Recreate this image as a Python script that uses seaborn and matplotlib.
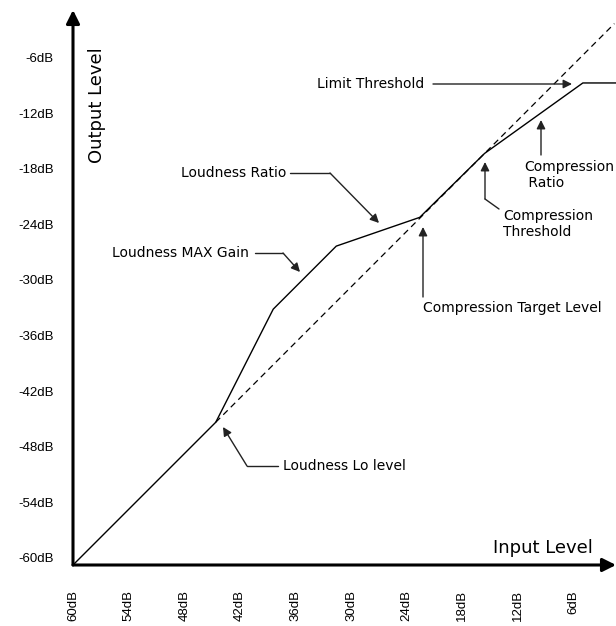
import pandas as pd
import seaborn as sns
import matplotlib.pyplot as plt
from matplotlib.transforms import ScaledTranslation

# transfer curve (input dB -> output dB)
input_db = [-60, -44.6, -38.4, -31.6, -22.6, -15.6, -5.0, -1.4]
output_db = [-60, -44.6, -32.4, -25.6, -22.5, -15.6, -8.0, -8.0]
# dashed unity-gain reference
unity_db = [-44.6, -1.6]

x_ticks = [-60, -54, -48, -42, -36, -30, -24, -18, -12, -6]
x_tick_labels = ['60dB', '54dB', '48dB', '42dB', '36dB', '30dB', '24dB', '18dB', '12dB', '6dB']
y_ticks = [-6, -12, -18, -24, -30, -36, -42, -48, -54, -60]
y_tick_labels = ['-6dB', '-12dB', '-18dB', '-24dB', '-30dB', '-36dB', '-42dB', '-48dB', '-54dB', '-60dB']

W, H = 616, 626
X0, Y0, SCALE = 73, 565, 9.27  # pixel of the origin, pixels per dB


def px(x, y):
    # pixel position on the picture -> data coords
    return -60 + (x - X0) / SCALE, -60 + (Y0 - y) / SCALE


sns.set_style('white')
plt.rcParams['font.family'] = ['DejaVu Sans']
plt.rcParams['text.color'] = 'black'
plt.rcParams['xtick.color'] = 'black'
plt.rcParams['ytick.color'] = 'black'

fig = plt.figure(figsize=(W / 100, H / 100), dpi=100)
ax = fig.add_axes([X0 / W, (H - Y0) / H, (W - X0) / W, (Y0 - 10) / H])

curve = pd.DataFrame({'input': input_db, 'output': output_db})
sns.lineplot(data=curve, x='input', y='output', color='black', lw=1.0, sort=False, ax=ax)
sns.lineplot(x=unity_db, y=unity_db, color='black', lw=0.9, linestyle=(0, (5, 3.5)), ax=ax)

ax.set_xlim(-60, -60 + (W - X0) / SCALE)
ax.set_ylim(-60, -60 + (Y0 - 10) / SCALE)
ax.set_xlabel('')
ax.set_ylabel('')
for s in ax.spines.values():
    s.set_visible(False)

# axes drawn as arrows
arrow_kw = dict(arrowstyle='-|>', color='black', lw=2.2, mutation_scale=20, shrinkA=0, shrinkB=0)
ax.annotate('', xy=(1, 0), xytext=(0, 0), xycoords='axes fraction', textcoords='axes fraction',
            arrowprops=arrow_kw, annotation_clip=False)
ax.annotate('', xy=(0, 1), xytext=(0, 0), xycoords='axes fraction', textcoords='axes fraction',
            arrowprops=arrow_kw, annotation_clip=False)

ax.set_xticks(x_ticks)
ax.set_xticklabels(x_tick_labels, rotation=90, fontsize=9.5, family='Liberation Sans')
ax.set_yticks(y_ticks)
ax.set_yticklabels(y_tick_labels, fontsize=9.5, family='Liberation Sans')
ax.tick_params(axis='x', length=0, pad=18)
ax.tick_params(axis='y', length=0, pad=14)
for lab in ax.get_yticklabels():
    lab.set_transform(lab.get_transform() + ScaledTranslation(0, 7 / 100, fig.dpi_scale_trans))

ax.text(*px(97, 105), 'Output Level', rotation=90, ha='center', va='center', fontsize=13)
ax.text(*px(543, 548), 'Input Level', ha='center', va='center', fontsize=13)

# annotations
fs = 10
line_kw = dict(color='#222222', lw=1.0, clip_on=False)
head_kw = dict(arrowstyle='-|>', color='#222222', lw=1.0, mutation_scale=13, shrinkA=0, shrinkB=0)


def note(text, tx, ty, path):
    ax.text(*px(tx, ty), text, ha='left', va='center', fontsize=fs, linespacing=1.25)
    for (x1, y1), (x2, y2) in zip(path[:-2], path[1:-1]):
        ax.plot(*zip(px(x1, y1), px(x2, y2)), **line_kw)
    ax.annotate('', xy=px(*path[-1]), xytext=px(*path[-2]), arrowprops=head_kw, annotation_clip=False)


note('Limit Threshold', 317, 84, [(433, 84), (572, 84)])
note('Compression\n Ratio', 524, 175, [(541, 155), (541, 120)])
note('Compression\nThreshold', 503, 224, [(499, 209), (485, 199), (485, 162)])
note('Compression Target Level', 423, 308, [(423, 297), (423, 227)])
note('Loudness Ratio', 181, 173, [(290, 173), (330, 173), (379, 223)])
note('Loudness MAX Gain', 112, 253, [(255, 253), (283, 253), (300, 272)])
note('Loudness Lo level', 283, 466, [(278, 466), (247, 466), (223, 427)])

fig.savefig('out.png', dpi=100)
